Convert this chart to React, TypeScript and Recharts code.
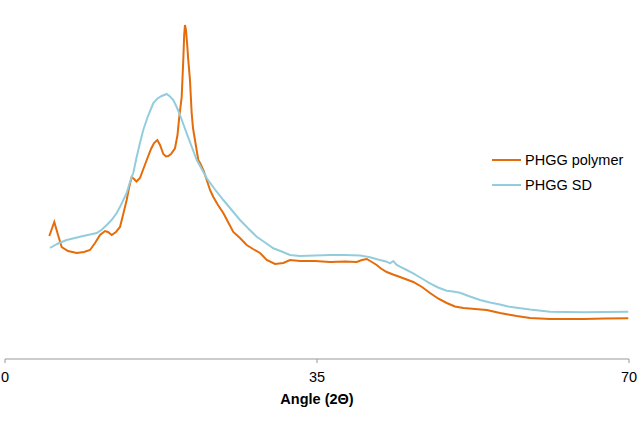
import React from "react";
import { LineChart, Line, XAxis, YAxis } from "recharts";

// 2θ angle values and intensities (arbitrary units)
const polymerAngle = [
  4.97, 5.53, 5.95, 6.36, 7.07, 8.04, 8.86, 9.54, 10.1, 10.66, 11.22, 11.55, 11.97, 12.45, 12.9,
  13.24, 13.65, 13.91, 14.21, 14.47, 14.75, 15.14, 15.9, 16.38, 16.72, 17.09, 17.39, 17.76, 18.06,
  18.32, 18.62, 19.07, 19.35, 19.55, 19.82, 20.0, 20.1, 20.19, 20.3, 20.44, 20.56, 20.75, 20.94,
  21.09, 21.31, 21.68, 21.88, 22.25, 22.63, 23.0, 23.37, 23.89, 24.49, 25.02, 25.61, 26.36, 27.11,
  27.82, 28.61, 29.36, 30.29, 31.22, 31.97, 33.09, 34.77, 36.46, 38.14, 39.45, 40.05, 40.58, 41.06,
  41.7, 42.18, 42.82, 43.53, 44.31, 45.8, 46.78, 47.68, 48.58, 49.55, 50.48, 51.41, 52.73, 54.04,
  55.53, 56.43, 57.4, 58.9, 61.14, 64.88, 67.31, 69.92,
];
const polymerIntensity = [
  123, 137, 124, 112, 108, 106, 107, 109, 116, 124, 128, 127, 124, 127, 132,
  144, 159, 171, 182, 180, 177.5, 181, 199, 210, 216, 219, 214, 205, 202.5,
  203, 205, 210.7, 224, 242, 262, 299, 324, 334, 329, 314, 299, 279, 246,
  231, 219, 199, 196, 189, 179, 169, 162, 154, 146, 137, 127, 121, 114,
  110, 106, 99, 95, 96, 99, 98, 98, 97, 97.5, 97, 99, 100, 97.5,
  94, 90.5, 87, 84.5, 82, 77, 72, 66, 60.5, 56, 52.5, 51, 50, 49,
  46, 44.5, 43, 41, 40, 40, 40.5, 40.7,
];

const sdAngle = [
  5.05, 5.95, 6.92, 7.85, 8.78, 9.54, 10.29, 10.88, 11.41, 12.0, 12.53, 13.01, 13.65, 14.02, 14.39,
  14.77, 15.14, 15.51, 16.04, 16.64, 17.11, 17.58, 18.14, 18.51, 18.88, 19.26, 19.63, 20.0, 20.38,
  20.94, 21.51, 22.07, 22.63, 23.56, 24.49, 25.43, 26.36, 27.29, 28.24, 29.17, 30.1, 31.04, 31.97,
  33.09, 34.77, 36.46, 38.14, 39.83, 40.95, 41.84, 42.82, 43.19, 43.56, 43.94, 44.31, 45.06, 45.8,
  46.67, 47.68, 48.58, 49.55, 50.26, 51.04, 52.16, 53.29, 54.41, 55.53, 56.43, 57.4, 58.9, 61.14,
  64.88, 67.31, 69.92,
];
const sdIntensity = [
  111, 115.5, 119, 121, 123, 124.5, 126, 129.5, 134, 139.5, 146, 154, 166, 177, 186,
  202, 216, 229, 243, 256, 260.5, 263, 265, 262.5, 259, 252, 244, 235, 225.7,
  212.5, 199, 190, 180.7, 169.5, 159, 149, 139, 130.5, 122.3, 116.5, 110.7, 107.5, 104,
  103, 103.5, 104, 104, 103.5, 101.7, 99.5, 97.3, 95.7, 98, 94, 92.3, 89, 85.7,
  81, 75.7, 71.5, 68.3, 67.5, 66.3, 62.5, 59, 56.5, 54.5, 52.5, 51.3, 49.5, 47.3,
  46.7, 47, 47.3,
];

const xTicks = [0, 35, 70];

const polymerData = polymerAngle.map((x, i) => ({ x, y: polymerIntensity[i] }));
const sdData = sdAngle.map((x, i) => ({ x, y: sdIntensity[i] }));

const ORANGE = "#E46C0A";
const BLUE = "#93CDDD";
const FONT = "'Liberation Sans', Arial, sans-serif";

const legendItems = [
  { name: "PHGG polymer", color: ORANGE },
  { name: "PHGG SD", color: BLUE },
];

function ChartLegend() {
  return (
    <div
      style={{
        position: "absolute",
        left: 492,
        top: 147,
        fontFamily: FONT,
        fontSize: 14.5,
        color: "#000",
      }}
    >
      {legendItems.map((item) => (
        <div key={item.name} style={{ display: "flex", alignItems: "center", height: 25.5 }}>
          <div style={{ width: 29, height: 2, background: item.color, marginRight: 4 }} />
          <span>{item.name}</span>
        </div>
      ))}
    </div>
  );
}

export default function App() {
  return (
    <div style={{ position: "absolute", left: 0, top: 0, width: 644, height: 428, background: "#fff" }}>
      <LineChart width={644} height={428} margin={{ top: 9, right: 15, bottom: 19, left: 5 }}>
        <XAxis
          dataKey="x"
          type="number"
          domain={[0, 70]}
          ticks={xTicks}
          allowDataOverflow
          height={50}
          stroke="#999999"
          tickSize={4}
          tickMargin={9}
          tick={{ fill: "#000", fontSize: 14.5, fontFamily: FONT }}
          label={{
            value: "Angle (2Θ)",
            position: "insideBottom",
            offset: 5,
            fill: "#000",
            fontSize: 14.5,
            fontWeight: "bold",
            fontFamily: FONT,
          }}
        />
        <YAxis type="number" domain={[0, 350]} hide allowDataOverflow />
        <Line
          data={polymerData}
          dataKey="y"
          name="PHGG polymer"
          type="linear"
          stroke={ORANGE}
          strokeWidth={2}
          dot={false}
          isAnimationActive={false}
        />
        <Line
          data={sdData}
          dataKey="y"
          name="PHGG SD"
          type="linear"
          stroke={BLUE}
          strokeWidth={2}
          dot={false}
          isAnimationActive={false}
        />
      </LineChart>
      <ChartLegend />
    </div>
  );
}
